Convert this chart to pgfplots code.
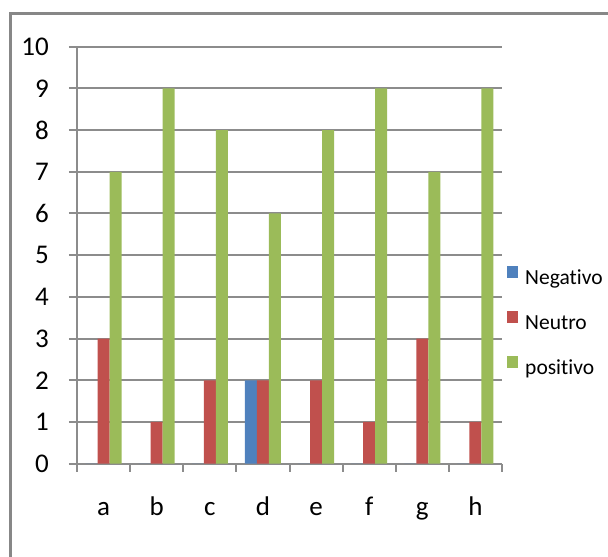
\documentclass[border=0pt]{standalone}
\usepackage{fontspec}
\setmainfont{Carlito}[Ligatures=NoCommon]
\usepackage{pgfplots}
\pgfplotsset{compat=1.18}

\definecolor{negcol}{HTML}{4F81BD}
\definecolor{neucol}{HTML}{C0504D}
\definecolor{poscol}{HTML}{9BBB59}
\definecolor{linecol}{HTML}{8C8C8C}
\definecolor{framecol}{HTML}{878787}

\begin{document}
\begin{tikzpicture}[x=1pt,y=1pt]
\useasboundingbox (0,0) rectangle (608,557);
% outer chart frame
\draw[framecol, line width=2.5pt] (10.5,-5) -- (10.5,543.5) -- (620,543.5);

\begin{axis}[
  at={(77pt,93.3pt)}, anchor=south west,
  scale only axis, width=425pt, height=417pt,
  xmin=0, xmax=8, ymin=0, ymax=10,
  axis x line=bottom, axis y line=left,
  axis line style={-, linecol, line width=2pt},
  ytick={0,...,10},
  ymajorgrids, grid style={linecol, line width=2pt},
  tick align=outside, major tick length=8pt,
  tick style={linecol, line width=2pt},
  xtick={0,...,8}, xticklabels={},
  extra x ticks={0.5,1.5,...,7.5},
  extra x tick labels={a,b,c,d,e,f,g,h},
  extra x tick style={tick style={draw=none}, grid=none,
    xticklabel style={anchor=base, inner sep=0pt, yshift=-44pt}},
  /pgf/number format/assume math mode=true,
  ticklabel style={font=\fontsize{27}{27}\selectfont},
  yticklabel style={anchor=east, inner sep=0pt, xshift=-20pt},
  ybar=0pt, bar width=12pt,
  legend cell align=left,
  legend style={at={(1.0118,0.474)}, anchor=north west, draw=none, fill=none,
    inner sep=0pt, row sep=22pt, column sep=7pt,
    nodes={inner sep=0pt, text height=16pt, text depth=5pt,
      font=\fontsize{21.5}{21.5}\selectfont}},
  legend image code/.code={\fill[#1] (0pt,0.5pt) rectangle (11pt,12.5pt);},
]
\addplot[fill=negcol, draw=none] coordinates {(0.5,0) (1.5,0) (2.5,0) (3.5,2) (4.5,0) (5.5,0) (6.5,0) (7.5,0)};
\addplot[fill=neucol, draw=none] coordinates {(0.5,3) (1.5,1) (2.5,2) (3.5,2) (4.5,2) (5.5,1) (6.5,3) (7.5,1)};
\addplot[fill=poscol, draw=none] coordinates {(0.5,7) (1.5,9) (2.5,8) (3.5,6) (4.5,8) (5.5,9) (6.5,7) (7.5,9)};
\legend{Negativo,Neutro,positivo}
\end{axis}
\end{tikzpicture}
\end{document}
